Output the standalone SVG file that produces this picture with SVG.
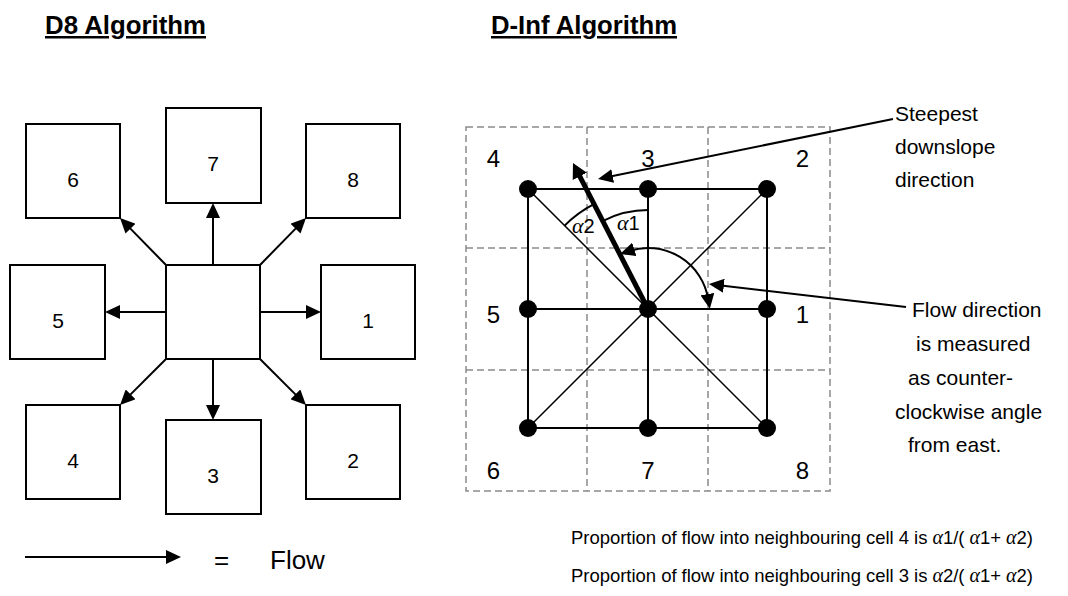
<svg xmlns="http://www.w3.org/2000/svg" width="1068" height="596" viewBox="0 0 1068 596">
  <style>
    .box { fill: #ffffff; stroke: #000000; stroke-width: 2; }
    .lbl { font-family: "Liberation Sans", Arial, sans-serif; fill: #000000; }
    .title { font-family: "Liberation Sans", Arial, sans-serif; font-weight: bold; font-size: 25px; text-decoration: underline; }
    .flow { stroke: #000000; stroke-width: 2; fill: none; marker-end: url(#head); }
    .grid { stroke: #8a8a8a; stroke-width: 1.5; stroke-dasharray: 7 4; fill: none; }
    .mesh { stroke: #000000; stroke-width: 2; fill: none; }
    .diag { stroke: #000000; stroke-width: 1.5; fill: none; }
    .alpha { font-family: "Liberation Serif", "Times New Roman", serif; font-style: italic; }
  </style>
  <defs>
    <marker id="head" viewBox="0 0 15 14" refX="5" refY="7" markerWidth="15" markerHeight="14" markerUnits="userSpaceOnUse" orient="auto-start-reverse">
      <path d="M0,0 L15,7 L0,14 Z" fill="#000000"/>
    </marker>
    <marker id="headThick" viewBox="0 0 15 16" refX="4" refY="8" markerWidth="15" markerHeight="16" markerUnits="userSpaceOnUse" orient="auto">
      <path d="M0,0 L15,8 L0,16 Z" fill="#000000"/>
    </marker>
  </defs>

  <rect x="0" y="0" width="1068" height="596" fill="#ffffff"/>

  <!-- Titles -->
  <text class="title" x="45" y="34" textLength="161" lengthAdjust="spacingAndGlyphs">D8 Algorithm</text>
  <text class="title" x="491" y="34" textLength="186" lengthAdjust="spacingAndGlyphs">D-Inf Algorithm</text>

  <!-- D8: centre cell and its eight neighbours -->
  <g id="d8-centre"><rect class="box" x="166" y="265" width="94" height="94"/></g>
  <g id="d8-cell-6"><rect class="box" x="26" y="124" width="94" height="94"/><text class="lbl" x="73" y="187" font-size="21" text-anchor="middle">6</text></g>
  <g id="d8-cell-7"><rect class="box" x="166" y="108" width="95" height="95"/><text class="lbl" x="213" y="171" font-size="21" text-anchor="middle">7</text></g>
  <g id="d8-cell-8"><rect class="box" x="306" y="124" width="94" height="94"/><text class="lbl" x="353" y="187" font-size="21" text-anchor="middle">8</text></g>
  <g id="d8-cell-5"><rect class="box" x="10" y="265" width="95" height="94"/><text class="lbl" x="58" y="328" font-size="21" text-anchor="middle">5</text></g>
  <g id="d8-cell-1"><rect class="box" x="321" y="265" width="94" height="94"/><text class="lbl" x="368" y="328" font-size="21" text-anchor="middle">1</text></g>
  <g id="d8-cell-4"><rect class="box" x="26" y="405" width="94" height="94"/><text class="lbl" x="73" y="468" font-size="21" text-anchor="middle">4</text></g>
  <g id="d8-cell-3"><rect class="box" x="166" y="420" width="95" height="94"/><text class="lbl" x="213" y="483" font-size="21" text-anchor="middle">3</text></g>
  <g id="d8-cell-2"><rect class="box" x="306" y="405" width="94" height="94"/><text class="lbl" x="353" y="468" font-size="21" text-anchor="middle">2</text></g>

  <!-- D8 flow arrows from the centre cell -->
  <g id="d8-connectors">
    <line class="flow" x1="166" y1="265" x2="127" y2="225.1"/>
    <line class="flow" x1="213" y1="265" x2="213" y2="213"/>
    <line class="flow" x1="260" y1="265" x2="299" y2="225.1"/>
    <line class="flow" x1="166" y1="312" x2="115" y2="312"/>
    <line class="flow" x1="260" y1="312" x2="311" y2="312"/>
    <line class="flow" x1="166" y1="359" x2="127.1" y2="397.9"/>
    <line class="flow" x1="213" y1="359" x2="213" y2="410"/>
    <line class="flow" x1="260" y1="359" x2="298.9" y2="397.9"/>
  </g>

  <!-- Legend -->
  <g id="legend">
    <line class="flow" x1="25" y1="557" x2="171" y2="557"/>
    <text class="lbl" x="221.5" y="569" font-size="26" text-anchor="middle">=</text>
    <text class="lbl" x="270" y="569" font-size="26">Flow</text>
  </g>

  <!-- D-Inf: dashed 3x3 cell grid -->
  <g id="dinf-grid">
    <rect class="grid" x="466" y="127" width="364" height="364"/>
    <line class="grid" x1="587" y1="127" x2="587" y2="491"/>
    <line class="grid" x1="708" y1="127" x2="708" y2="491"/>
    <line class="grid" x1="466" y1="248" x2="830" y2="248"/>
    <line class="grid" x1="466" y1="370" x2="830" y2="370"/>
  </g>

  <!-- Neighbour numbers -->
  <g id="dinf-labels" class="lbl" font-size="24" text-anchor="middle">
    <text x="493.5" y="167">4</text>
    <text x="648" y="167">3</text>
    <text x="802.5" y="167">2</text>
    <text x="493.5" y="323">5</text>
    <text x="802.5" y="323">1</text>
    <text x="493.5" y="479">6</text>
    <text x="648" y="479">7</text>
    <text x="802.5" y="479">8</text>
  </g>

  <!-- Triangular facets between cell centres -->
  <g id="dinf-mesh">
    <rect class="mesh" x="528" y="189" width="239" height="239"/>
    <line class="mesh" x1="648" y1="189" x2="648" y2="428"/>
    <line class="mesh" x1="528" y1="309" x2="767" y2="309"/>
    <line class="diag" x1="528" y1="189" x2="767" y2="428"/>
    <line class="diag" x1="767" y1="189" x2="528" y2="428"/>
  </g>

  <!-- Cell centres -->
  <g id="dinf-nodes" fill="#000000">
    <circle cx="528" cy="189" r="9"/>
    <circle cx="648" cy="189" r="9"/>
    <circle cx="767" cy="189" r="9"/>
    <circle cx="528" cy="309" r="9"/>
    <circle cx="648" cy="309" r="9"/>
    <circle cx="767" cy="309" r="9"/>
    <circle cx="528" cy="428" r="9"/>
    <circle cx="648" cy="428" r="9"/>
    <circle cx="767" cy="428" r="9"/>
  </g>

  <!-- Angles and flow direction -->
  <g id="dinf-connectors">
    <!-- angle arcs -->
    <path d="M648,210 A99,99 0 0 0 603.1,220.8" class="mesh" stroke-width="1.5"/>
    <path d="M594.4,203.9 A118,118 0 0 0 564.6,225.6" class="mesh" stroke-width="1.5"/>
    <!-- steepest downslope direction -->
    <line x1="648" y1="309" x2="578" y2="172.8" stroke="#000000" stroke-width="5" marker-end="url(#headThick)"/>
    <!-- counter-clockwise angle from east -->
    <path d="M708.2,299 A61,61 0 0 0 629.55,250.85" class="mesh" marker-start="url(#head)" marker-end="url(#head)"/>
    <!-- callouts -->
    <line class="flow" x1="893" y1="119" x2="607.8" y2="177"/>
    <line class="flow" x1="906" y1="307" x2="718.9" y2="285.2"/>
  </g>

  <g id="alpha-labels" class="lbl" font-size="20">
    <text x="617" y="230"><tspan class="alpha" font-size="22">α</tspan>1</text>
    <text x="572" y="233"><tspan class="alpha" font-size="22">α</tspan>2</text>
  </g>

  <!-- Annotations -->
  <g id="note-steepest" class="lbl" font-size="21">
    <text x="895" y="121">Steepest</text>
    <text x="895" y="154">downslope</text>
    <text x="895" y="187">direction</text>
  </g>
  <g id="note-direction" class="lbl" font-size="21">
    <text x="912" y="317">Flow direction</text>
    <text x="916" y="351">is measured</text>
    <text x="908" y="385">as counter-</text>
    <text x="895" y="419">clockwise angle</text>
    <text x="908" y="452">from east.</text>
  </g>
  <g id="note-proportion" class="lbl" font-size="18.5">
    <text x="571" y="544" textLength="462" lengthAdjust="spacing">Proportion of flow into neighbouring cell 4 is <tspan class="alpha" font-size="20">α</tspan>1/( <tspan class="alpha" font-size="20">α</tspan>1+ <tspan class="alpha" font-size="20">α</tspan>2)</text>
    <text x="571" y="582" textLength="462" lengthAdjust="spacing">Proportion of flow into neighbouring cell 3 is <tspan class="alpha" font-size="20">α</tspan>2/( <tspan class="alpha" font-size="20">α</tspan>1+ <tspan class="alpha" font-size="20">α</tspan>2)</text>
  </g>
</svg>
